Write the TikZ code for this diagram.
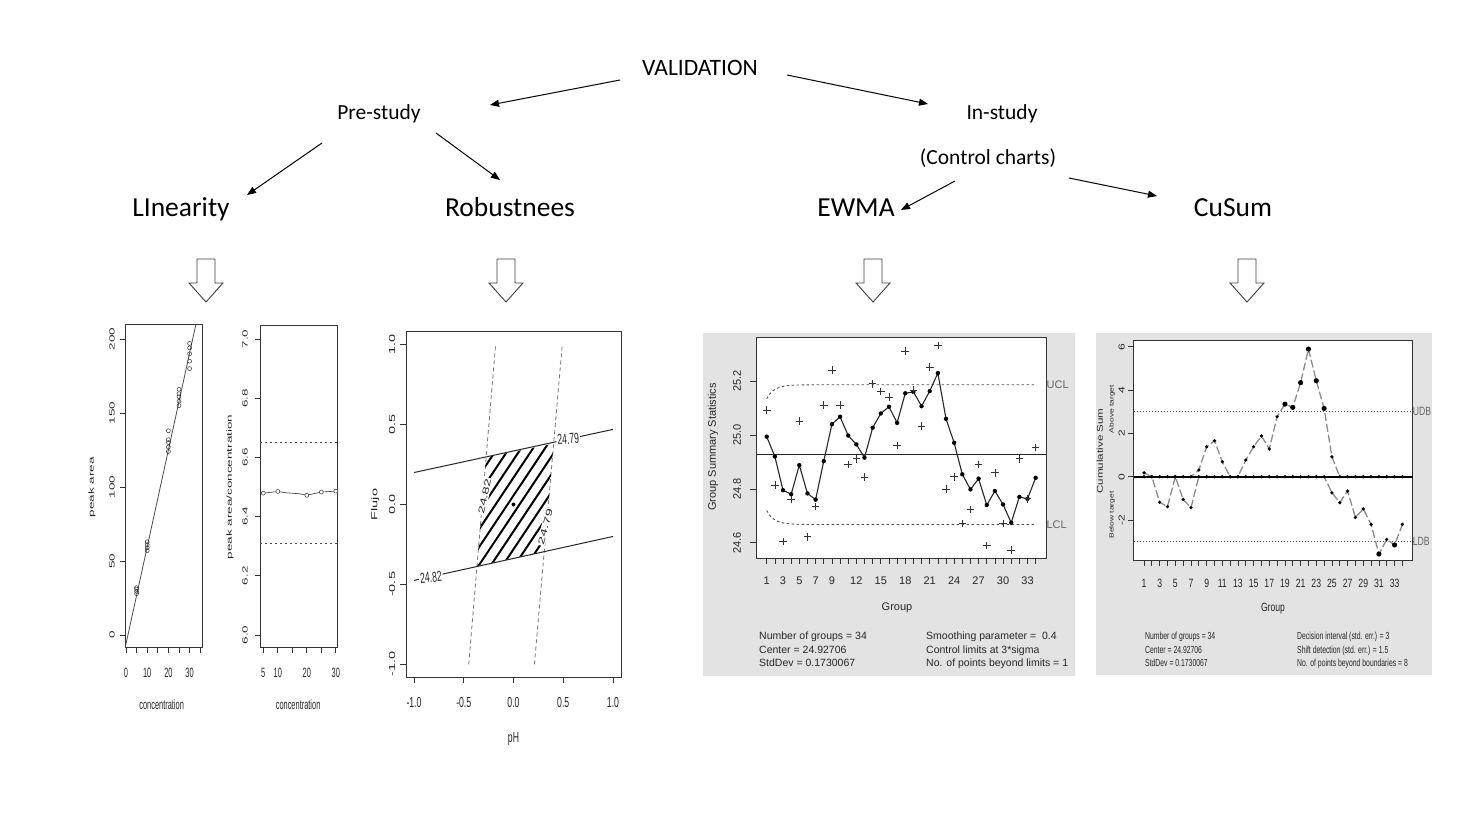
\documentclass[tikz,border=0pt]{standalone}
\usepackage{graphicx}
\usepackage{fontspec}
\setmainfont{Carlito}
\newfontfamily\plotfont{Liberation Sans}
\usetikzlibrary{arrows.meta}

% the R graphs were pasted narrower than they were drawn
\newcommand{\hsq}[2][0.55]{\scalebox{#1}[1]{#2}}
\newcommand{\vsq}[2][0.55]{\scalebox{1}[#1]{#2}}
\newcommand{\plotsize}[1]{\plotfont\fontsize{#1}{#1}\selectfont}

% data
\newcommand{\ewmaz}{24.994,24.92,24.795,24.78,24.888,24.783,24.76,24.903,25.04,25.068,24.998,24.965,24.916,25.027,25.08,25.105,25.045,25.155,25.16,25.107,25.163,25.23,25.06,24.971,24.854,24.798,24.838,24.74,24.792,24.742,24.674,24.77,24.763,24.841}
\newcommand{\ewmaobs}{25.093,24.814,24.604,24.76,25.052,24.622,24.734,25.111,25.241,25.111,24.891,24.912,24.844,25.19,25.161,25.141,24.961,25.312,25.167,25.033,25.253,25.333,24.80,24.845,24.672,24.724,24.891,24.59,24.86,24.672,24.573,24.912,24.763,24.953}
\newcommand{\cusumup}{0.18,0,0,0,0,0,0,0.31,1.38,1.66,0.69,0,0,0.77,1.38,1.88,1.28,2.77,3.35,3.2,4.34,5.89,4.43,3.15,0.92,0,0,0,0,0,0,0,0,0}
\newcommand{\cusumlow}{0,0,-1.18,-1.38,0,-1.05,-1.43,0,0,0,0,0,0,0,0,0,0,0,0,0,0,0,0,0,-0.74,-1.2,-0.66,-1.88,-1.49,-2.2,-3.57,-2.89,-3.15,-2.2}

\tikzset{
  heading/.style={font=\fontsize{21.5}{26}\selectfont, inner sep=2pt},
  method/.style={font=\fontsize{27.5}{32}\selectfont, inner sep=2pt,
    text height=19pt, text depth=6pt},
  link/.style={-{Triangle[length=9pt,width=7pt]}, line width=1pt},
  hollow/.style={draw=black!75, line width=0.9pt, fill=white},
  rframe/.style={draw=black!80, line width=0.9pt},
  rtick/.style={draw=black!80, line width=0.7pt},
  rtext/.style={inner sep=0pt, text=black!85},
  limit/.style={draw=black!70, line width=0.9pt, dash pattern=on 2.5pt off 2.5pt},
  boundary/.style={draw=black!70, line width=1pt, dash pattern=on 1.5pt off 1.5pt},
  cusumline/.style={draw=black!45, line width=1.3pt, dash pattern=on 8pt off 3pt},
  lintext/.style={rtext, font=\plotsize{13.5}},
  robtext/.style={rtext, font=\plotsize{14.5}},
  ewmatext/.style={rtext, font=\plotsize{10.5}},
  cusumtext/.style={rtext, font=\plotsize{12}},
}

\begin{document}
\begin{tikzpicture}[x=1pt, y=-1pt]
\useasboundingbox (0,0) rectangle (1459,821);

% Tree of the validation steps
\node[heading, font=\fontsize{23.5}{28}\selectfont] (val) at (700,68) {VALIDATION};
\node[heading] (pre)   at (379,114)  {Pre-study};
\node[heading] (ins)   at (1002,114) {In-study};
\node[heading] (ctrl)  at (988,158)  {(Control charts)};
\node[method]  (lin)   at (181,210)  {LInearity};
\node[method]  (rob)   at (510,210)  {Robustnees};
\node[method]  (ewma)  at (856,210)  {EWMA};
\node[method]  (cusum) at (1233,210) {CuSum};

\draw[link] ([shift={(-80,12)}]val.center) -- ([shift={(111,-9)}]pre.center);
\draw[link] ([shift={(87,7)}]val.center) -- ([shift={(-74,-10)}]ins.center);
\draw[link] ([shift={(-57,29)}]pre.center) -- ([shift={(66,-15)}]lin.center);
\draw[link] ([shift={(57,19)}]pre.center) -- ([shift={(-10,-30)}]rob.center);
\draw[link] ([shift={(-33,23)}]ctrl.center) -- ([shift={(45,0)}]ewma.center);
\draw[link] ([shift={(81,20)}]ctrl.center) -- ([shift={(-76,-14)}]cusum.center);

% Hollow arrows down to the graphs
\foreach \x in {206,506,873,1247}
  \draw[hollow] (\x-9,259) -- (\x+9,259) -- (\x+9,283) -- (\x+17,283)
    -- (\x,302) -- (\x-17,283) -- (\x-9,283) -- cycle;

% Linearity: peak area against concentration
\begin{scope}[shift={(126,635)}, x=2.12pt, y=1.48pt]
  \draw[rframe] (-0.47,-8.6) rectangle (35.9,209.5);
  \draw[black!70, line width=0.8pt] (-0.4,-8.6) -- (32.9,209.5);
  \foreach \c/\v in {5/28,5/29.5,5/31,5/32,10/57,10/59,10/61,10/63,
      20/124,20/127,20/130,20/132,20/138,25/155,25/158,25/161,25/163,25/166,
      30/180,30/185,30/190,30/194,30/197}
    \draw[black!80, line width=0.5pt] (\c,\v) circle (2pt);
  \foreach \v in {0,50,...,200} {
    \draw[rtick] (-0.47,\v) -- ++(-5pt,0);
    \node[lintext, xshift=-13pt, rotate=90] at (-0.47,\v) {\vsq{\v}};
  }
  \foreach \c in {0,5,...,35}
    \draw[rtick] (\c,-8.6) -- ++(0,-5pt);
  \foreach \c in {0,10,20,30}
    \node[lintext, yshift=-25pt] at (\c,-8.6) {\hsq{\c}};
  \node[lintext, xshift=-33pt, rotate=90] at (-0.47,100) {\vsq{peak area}};
  \node[lintext, yshift=-57pt] at (16.8,-8.6) {\hsq{concentration}};
\end{scope}

% Linearity: response factor against concentration
\begin{scope}[shift={(248.8,2411)}, x=2.9pt, y=296pt]
  \draw[rframe] (3.86,5.957) rectangle (30.5,7.047);
  \draw[limit] (3.86,6.65) -- (30.5,6.65);
  \draw[limit] (3.86,6.31) -- (30.5,6.31);
  \draw[black!80, line width=0.6pt] (5,6.479) -- (10,6.485) -- (12.5,6.481)
    -- (15,6.479) -- (17.5,6.477) -- (20,6.472) -- (25,6.483) -- (30,6.486);
  \foreach \c/\v in {5/6.479,10/6.485,20/6.472,25/6.483,30/6.486}
    \filldraw[draw=black!80, fill=white, line width=0.5pt] (\c,\v) circle (2pt);
  \foreach \v in {6.0,6.2,6.4,6.6,6.8,7.0} {
    \draw[rtick] (3.86,\v) -- ++(-5pt,0);
    \node[lintext, xshift=-15pt, rotate=90] at (3.86,\v) {\vsq{\v}};
  }
  \foreach \c in {5,10,...,30}
    \draw[rtick] (\c,5.957) -- ++(0,-5pt);
  \foreach \c in {5,10,20,30}
    \node[lintext, yshift=-25pt] at (\c,5.957) {\hsq{\c}};
  \node[lintext, xshift=-30pt, rotate=90] at (3.86,6.5) {\vsq{peak area/concentration}};
  \node[lintext, yshift=-57pt] at (17,5.957) {\hsq{concentration}};
\end{scope}

% Robustness: contour plot over pH and Flujo
\begin{scope}[shift={(513.5,504.5)}, x=99.5pt, y=159.8pt]
  \draw[rframe] (-1.08,-1.08) rectangle (1.08,1.08);
  \draw[black!55, line width=0.8pt, dash pattern=on 4pt off 3pt] (-0.45,-1) -- (-0.18,1);
  \draw[black!55, line width=0.8pt, dash pattern=on 4pt off 3pt] (0.21,-1) -- (0.49,1);
  \draw[black!85, line width=1pt] (-1,0.2) -- (1,0.47);
  \draw[black!85, line width=1pt] (-1,-0.475) -- (1,-0.2);
  % hatched zone
  \begin{scope}
    \clip (-0.275,0.296) -- (0.403,0.38) -- (0.309,-0.293) -- (-0.367,-0.385) -- cycle;
    \foreach \k in {-7,...,6}
      \draw[line width=2pt] ({0.12*\k-0.54},-0.56) -- ({0.12*\k+0.66},0.56);
  \end{scope}
  \fill (0,0) circle (2pt);
  \node[robtext, fill=white, inner sep=1pt, rotate=78] at (-0.29,0.05) {\vsq[0.6]{24.82}};
  \node[robtext, fill=white, inner sep=1pt, rotate=75] at (0.32,-0.14) {\vsq[0.6]{24.79}};
  \node[robtext, fill=white, inner sep=1pt, rotate=5] at (0.55,0.41) {\hsq[0.6]{24.79}};
  \node[robtext, fill=white, inner sep=1pt, rotate=5] at (-0.83,-0.455) {\hsq[0.6]{24.82}};
  \foreach \p/\lab in {-1/-1.0,-0.5/-0.5,0/0.0,0.5/0.5,1/1.0} {
    \draw[rtick] (\p,-1.08) -- ++(0,-6pt);
    \node[robtext, yshift=-25pt] at (\p,-1.08) {\hsq[0.6]{\lab}};
    \draw[rtick] (-1.08,\p) -- ++(-6pt,0);
    \node[robtext, xshift=-14pt, rotate=90] at (-1.08,\p) {\vsq[0.6]{\lab}};
  }
  \node[robtext, yshift=-62pt] at (0,-1.08) {\hsq[0.6]{pH}};
  \node[robtext, xshift=-31pt, rotate=90] at (-1.08,0) {\vsq[0.6]{Flujo}};
\end{scope}

% EWMA chart
\fill[black!11] (703,333) rectangle (1075,676);
\begin{scope}[shift={(758.55,7167.5)}, x=8.15pt, y=269.3pt]
  \draw[rframe, fill=white] (-0.31,24.542) rectangle (35.32,25.363);
  \draw[black!85, line width=1.3pt] (-0.31,24.92706) -- (35.32,24.92706);
  \draw[limit] plot[domain=1:34, samples=80]
    (\x, {24.92706+0.5190201*sqrt(0.25*(1-0.36^min(\x,10)))});
  \draw[limit] plot[domain=1:34, samples=80]
    (\x, {24.92706-0.5190201*sqrt(0.25*(1-0.36^min(\x,10)))});
  \draw[black!85, line width=1.1pt] (1,24.994) \foreach \v [count=\g] in \ewmaz { -- (\g,\v) };
  \foreach \v [count=\g] in \ewmaz
    \fill (\g,\v) circle (2.2pt);
  \foreach \v [count=\g] in \ewmaobs
    \draw[black!80, line width=0.7pt] (\g,\v) ++(-3.8pt,0) -- ++(7.6pt,0) ++(-3.8pt,-3.8pt) -- ++(0,7.6pt);
  \foreach \g in {1,...,34}
    \draw[rtick] (\g,24.542) -- ++(0,-6pt);
  \foreach \g in {1,3,5,7,9,12,15,18,21,24,27,30,33}
    \node[ewmatext, font=\plotsize{11}, yshift=-22pt] at (\g,24.542) {\g};
  \foreach \v in {24.6,24.8,25.0,25.2} {
    \draw[rtick] (-0.31,\v) -- ++(-6pt,0);
    \node[ewmatext, font=\plotsize{11}, xshift=-19pt, rotate=90] at (-0.31,\v) {\v};
  }
  \node[ewmatext, font=\plotsize{11}, anchor=west, text=black!60] at (35.32,25.187) {UCL};
  \node[ewmatext, font=\plotsize{11}, anchor=west, text=black!60] at (35.32,24.667) {LCL};
\end{scope}
\node[ewmatext, font=\plotsize{11}, rotate=90] at (713,447) {Group Summary Statistics};
\node[ewmatext, font=\plotsize{11}] at (897,608) {Group};
\foreach \t [count=\i] in {Number of groups = 34, Center = 24.92706, StdDev = 0.1730067}
  \node[ewmatext, anchor=base west] at (759,626+13.5*\i) {\t};
\foreach \t [count=\i] in {Smoothing parameter = \ 0.4, Control limits at 3*sigma, No. of points beyond limits = 1}
  \node[ewmatext, anchor=base west] at (926,626+13.5*\i) {\t};

% CuSum chart
\fill[black!11] (1096,333) rectangle (1432,675);
\begin{scope}[shift={(1136.17,476.7)}, x=7.83pt, y=21.67pt]
  \draw[rframe, fill=white] (-0.32,-3.85) rectangle (35.32,6.3);
  \draw[boundary] (-0.32,3) -- (35.32,3);
  \draw[boundary] (-0.32,-3) -- (35.32,-3);
  \draw[cusumline] (1,0.18) \foreach \v [count=\g] in \cusumup { -- (\g,\v) };
  \draw[cusumline] (1,0) \foreach \v [count=\g] in \cusumlow { -- (\g,\v) };
  \draw[line width=2pt] (-0.32,0) -- (35.32,0);
  \foreach \v [count=\g] in \cusumup {
    \pgfmathsetmacro{\rad}{abs(\v)>3 ? 2.6 : 1.8}
    \fill (\g,\v) circle[radius=\rad pt];
  }
  \foreach \v [count=\g] in \cusumlow {
    \pgfmathsetmacro{\rad}{abs(\v)>3 ? 2.6 : 1.8}
    \fill (\g,\v) circle[radius=\rad pt];
  }
  \foreach \g in {1,...,34}
    \draw[rtick] (\g,-3.85) -- ++(0,-6pt);
  \foreach \g in {1,3,...,33}
    \node[cusumtext, yshift=-23pt] at (\g,-3.85) {\hsq[0.72]{\g}};
  \foreach \v in {-2,0,2,4,6} {
    \draw[rtick] (-0.32,\v) -- ++(-6pt,0);
    \node[cusumtext, xshift=-12pt, rotate=90] at (-0.32,\v) {\vsq[0.72]{\v}};
  }
  \node[cusumtext, anchor=west, text=black!60] at (35.32,3) {\hsq[0.72]{UDB}};
  \node[cusumtext, anchor=west, text=black!60] at (35.32,-3) {\hsq[0.72]{LDB}};
\end{scope}
\node[cusumtext, font=\plotsize{11.6}, rotate=90] at (1100,451) {\vsq[0.72]{Cumulative Sum}};
\node[cusumtext, font=\plotsize{8.5}, rotate=90] at (1112,409) {\vsq[0.72]{Above target}};
\node[cusumtext, font=\plotsize{8.5}, rotate=90] at (1112,515) {\vsq[0.72]{Below target}};
\node[cusumtext] at (1273,609) {\hsq[0.72]{Group}};
\foreach \t [count=\i] in {Number of groups = 34, Center = 24.92706, StdDev = 0.1730067}
  \node[cusumtext, font=\plotsize{10.2}, anchor=base west] at (1145,626+13.5*\i) {\hsq[0.67]{\t}};
\foreach \t [count=\i] in {Decision interval (std. err.) = 3, Shift detection (std. err.) = 1.5, No. of points beyond boundaries = 8}
  \node[cusumtext, font=\plotsize{10.2}, anchor=base west] at (1297,626+13.5*\i) {\hsq[0.67]{\t}};

\end{tikzpicture}
\end{document}
